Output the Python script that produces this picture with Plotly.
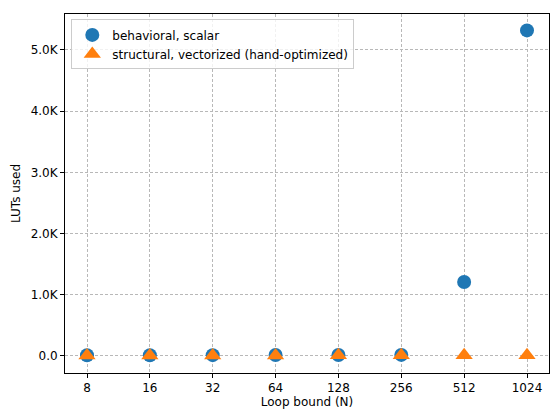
import plotly.graph_objects as go

loop_bounds = ["8", "16", "32", "64", "128", "256", "512", "1024"]
behavioral_scalar = [12, 13, 14, 15, 16, 18, 1210, 5320]
structural_vectorized = [8, 8, 9, 9, 10, 10, 11, 12]
y_tick_vals = [0, 1000, 2000, 3000, 4000, 5000]
y_tick_text = ["0.0", "1.0K", "2.0K", "3.0K", "4.0K", "5.0K"]

font = dict(family="DejaVu Sans", size=12, color="black")

fig = go.Figure()
fig.add_trace(go.Scatter(
    x=loop_bounds, y=behavioral_scalar, mode="markers",
    name="behavioral, scalar",
    marker=dict(symbol="circle", size=14, color="#1f77b4"),
))
fig.add_trace(go.Scatter(
    x=loop_bounds, y=structural_vectorized, mode="markers",
    name="structural, vectorized (hand-optimized)",
    marker=dict(symbol="triangle-up", size=15, color="#ff7f0e"),
))

axis_common = dict(
    showline=True, linecolor="black", linewidth=1, mirror=True,
    ticks="outside", ticklen=4, tickcolor="black",
    showgrid=True, gridcolor="#b8b8b8", griddash="3px,2px", gridwidth=0.8,
    zeroline=False, tickfont=font, automargin=False,
)

fig.update_layout(
    width=550, height=409,
    margin=dict(l=65, r=1, t=14, b=36),
    paper_bgcolor="white", plot_bgcolor="white",
    font=font,
    showlegend=True,
    legend=dict(
        x=0.013, y=0.985, xanchor="left", yanchor="top",
        bgcolor="rgba(255,255,255,0.8)", bordercolor="#cccccc", borderwidth=1,
        font=font, tracegroupgap=0, itemwidth=30,
    ),
    xaxis=dict(
        type="category", range=[-0.35, 7.35],
        title=dict(text="Loop bound (N)", font=font, standoff=4),
        **axis_common,
    ),
    yaxis=dict(
        range=[-278, 5588],
        tickvals=y_tick_vals, ticktext=y_tick_text,
        title=dict(text="LUTs used", font=font, standoff=7),
        **axis_common,
    ),
)

fig.write_html(
    "out.html",
    config={"displayModeBar": False},
    post_script="document.body.style.margin='0';document.body.style.overflow='hidden';",
)
